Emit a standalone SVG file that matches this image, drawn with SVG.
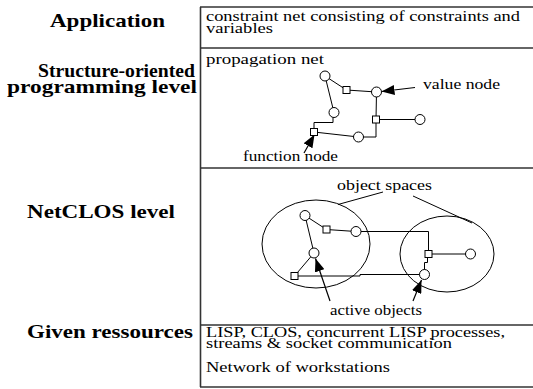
<svg xmlns="http://www.w3.org/2000/svg" width="533" height="389" viewBox="0 0 533 389">
<style>
.b{font-family:"Liberation Serif","Times New Roman",serif;font-weight:bold;font-size:19px;fill:#000}
.t{font-family:"Liberation Serif","Times New Roman",serif;font-size:14px;fill:#000}
.frame{stroke:#333;stroke-width:1.6;fill:none}
.ln{stroke:#000;stroke-width:1;fill:none}
.nd{stroke:#000;stroke-width:1;fill:#fff}
.arr{stroke:#000;stroke-width:1.2;fill:none;marker-end:url(#ah)}
</style>
<defs>
<marker id="ah" markerUnits="userSpaceOnUse" markerWidth="14" markerHeight="10" refX="13" refY="5" orient="auto">
<path d="M0,0 L13,5 L0,10 z" fill="#000"/>
</marker>
</defs>
<g id="frame">
<line class="frame" x1="200" y1="7" x2="533" y2="7"/>
<line class="frame" x1="200" y1="48" x2="533" y2="48"/>
<line class="frame" x1="200" y1="168" x2="533" y2="168"/>
<line class="frame" x1="200" y1="325" x2="533" y2="325"/>
<line class="frame" x1="200" y1="387" x2="533" y2="387"/>
<line class="frame" x1="200.5" y1="7" x2="200.5" y2="387"/>
</g>
<g id="labels">
<text class="b" x="50" y="27" textLength="115" lengthAdjust="spacingAndGlyphs">Application</text>
<text class="b" x="38" y="77" textLength="157" lengthAdjust="spacingAndGlyphs">Structure-oriented</text>
<text class="b" x="7" y="93" textLength="190" lengthAdjust="spacingAndGlyphs">programming level</text>
<text class="b" x="27" y="218" textLength="148" lengthAdjust="spacingAndGlyphs">NetCLOS level</text>
<text class="b" x="27" y="338" textLength="166" lengthAdjust="spacingAndGlyphs">Given ressources</text>
<text class="t" x="206" y="20.5" textLength="314" lengthAdjust="spacingAndGlyphs">constraint net consisting of constraints and</text>
<text class="t" x="206" y="32.5" textLength="67" lengthAdjust="spacingAndGlyphs">variables</text>
<text class="t" x="206" y="63.5" textLength="118" lengthAdjust="spacingAndGlyphs">propagation net</text>
<text class="t" x="423" y="89" textLength="77" lengthAdjust="spacingAndGlyphs">value node</text>
<text class="t" x="243" y="161" textLength="95" lengthAdjust="spacingAndGlyphs">function node</text>
<text class="t" x="337" y="189.5" textLength="95" lengthAdjust="spacingAndGlyphs">object spaces</text>
<text class="t" x="330" y="315" textLength="92" lengthAdjust="spacingAndGlyphs">active objects</text>
<text class="t" x="206" y="336.5" textLength="299" lengthAdjust="spacingAndGlyphs">LISP, CLOS, concurrent LISP processes,</text>
<text class="t" x="206" y="348" textLength="246" lengthAdjust="spacingAndGlyphs">streams &amp; socket communication</text>
<text class="t" x="206" y="372" textLength="184" lengthAdjust="spacingAndGlyphs">Network of workstations</text>
</g>
<g id="connectors">
<line class="ln" x1="325" y1="76" x2="346.5" y2="90"/>
<line class="ln" x1="346.5" y1="90" x2="376.5" y2="92"/>
<line class="ln" x1="325" y1="76" x2="334" y2="112.5"/>
<polyline class="ln" points="333,117.5 333,122.5 314,122.5 314,132"/>
<line class="ln" x1="314" y1="132" x2="358.5" y2="137"/>
<polyline class="ln" points="358.5,137 376,137 376,119.5"/>
<line class="ln" x1="376.5" y1="92" x2="376" y2="119.5"/>
<line class="ln" x1="376" y1="119.5" x2="420" y2="119.5"/>
<line class="ln" x1="305" y1="215.5" x2="326.5" y2="229.5"/>
<line class="ln" x1="326.5" y1="229.5" x2="356" y2="231.5"/>
<line class="ln" x1="305" y1="215.5" x2="314" y2="253"/>
<line class="ln" x1="314" y1="253" x2="294.5" y2="276"/>
<polyline class="ln" points="356,231.5 428.5,231.5 428.5,254"/>
<line class="ln" x1="428.5" y1="254" x2="470.5" y2="254"/>
<polyline class="ln" points="427.5,258 427.5,262.5 424.5,262.5 424.5,274"/>
<polyline class="ln" points="294.5,276 360,276 360,274.5 424.5,274.5"/>
<line class="ln" x1="338" y1="204.5" x2="383" y2="192"/>
<line class="ln" x1="413" y1="196" x2="472" y2="223"/>
<line class="arr" x1="415" y1="87.5" x2="381.5" y2="91.5"/>
<line class="arr" x1="304" y1="153" x2="314.5" y2="134.5"/>
<line class="arr" x1="330" y1="301" x2="315.5" y2="258.5"/>
<line class="arr" x1="413" y1="301" x2="421.5" y2="280"/>
</g>
<g id="space-left"><ellipse class="ln" cx="316" cy="244" rx="54" ry="44"/></g>
<g id="space-right"><ellipse class="ln" cx="447" cy="254" rx="47" ry="38"/></g>
<g id="pn-circle-1"><circle class="nd" cx="325" cy="76" r="5"/></g>
<g id="pn-square-1"><rect class="nd" x="343" y="86.5" width="7" height="7"/></g>
<g id="pn-value-node"><circle class="nd" cx="376.5" cy="92" r="5"/></g>
<g id="pn-circle-2"><circle class="nd" cx="334" cy="112.5" r="5"/></g>
<g id="pn-square-2"><rect class="nd" x="372.5" y="116" width="7" height="7"/></g>
<g id="pn-circle-3"><circle class="nd" cx="420" cy="119.5" r="5"/></g>
<g id="pn-function-node"><rect class="nd" x="310.5" y="128.5" width="7" height="7"/></g>
<g id="pn-circle-4"><circle class="nd" cx="358.5" cy="137" r="5"/></g>
<g id="nc-circle-1"><circle class="nd" cx="305" cy="215.5" r="5"/></g>
<g id="nc-square-1"><rect class="nd" x="323" y="226" width="7" height="7"/></g>
<g id="nc-circle-2"><circle class="nd" cx="356" cy="231.5" r="5"/></g>
<g id="nc-circle-3"><circle class="nd" cx="314" cy="253" r="5"/></g>
<g id="nc-square-2"><rect class="nd" x="291" y="272.5" width="7" height="7"/></g>
<g id="nc-square-3"><rect class="nd" x="425" y="250.5" width="7" height="7"/></g>
<g id="nc-circle-4"><circle class="nd" cx="470.5" cy="254" r="5"/></g>
<g id="nc-circle-5"><circle class="nd" cx="424.5" cy="274.5" r="5"/></g>
</svg>
